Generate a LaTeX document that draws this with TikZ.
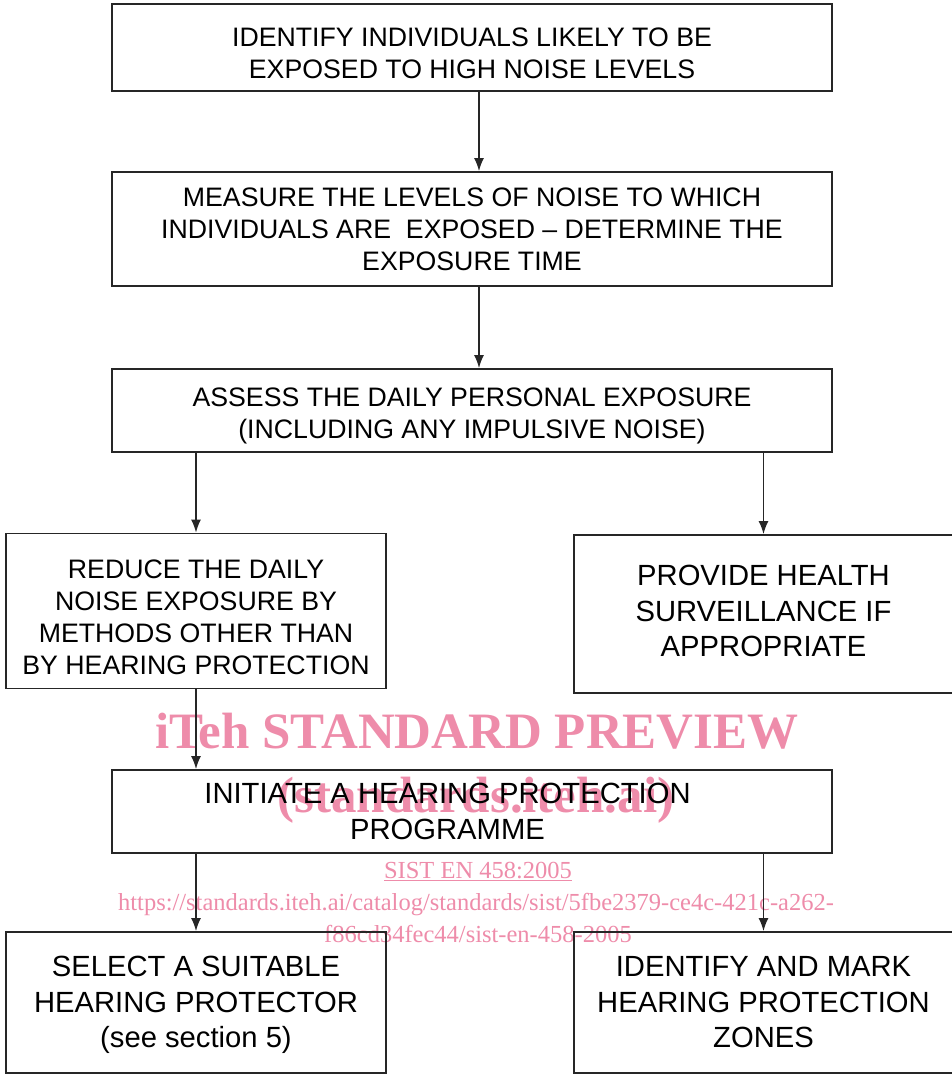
\documentclass[tikz,border=0pt]{standalone}
\usepackage{fontspec}
\setmainfont{Liberation Sans}
\newfontfamily\wmfont{Liberation Serif}
\usepackage{tikz}
\usetikzlibrary{arrows.meta}
\definecolor{wmpink}{RGB}{238,140,170}
\newcommand{\lowerby}[1]{\rule{0pt}{#1}}
\tikzset{
  stepbox/.style={draw=black!85,line width=1.6pt,rectangle,inner sep=0pt,align=center,font=\fontsize{26.7}{32}\selectfont},
  bigbox/.style={stepbox,font=\fontsize{29.2}{35.5}\selectfont},
  raise/.style={execute at end node={\rule[-#1]{0pt}{#1}}},
  flow/.style={-{Latex[length=13pt,width=10pt]},line width=1.8pt,draw=black!85},
  wmark/.style={text=wmpink,inner sep=0pt,anchor=base}
}

\begin{document}
\begin{tikzpicture}[x=1pt,y=-1pt]
\useasboundingbox (0,0) rectangle (952,1074);
\clip (0,0) rectangle (952,1074);
\node[wmark,font=\wmfont\bfseries\fontsize{51}{51}\selectfont] (wm1) at (477,748) {iTeh STANDARD PREVIEW};
\node[wmark,font=\wmfont\bfseries\fontsize{51}{51}\selectfont] (wm2) at (476,812) {(standards.iteh.ai)};
\node[wmark,font=\wmfont\fontsize{24.5}{24.5}\selectfont] (wm3) at (478,878) {\underline{SIST EN 458:2005}};
\node[wmark,font=\wmfont\fontsize{24.5}{24.5}\selectfont] (wm4) at (476,910) {https://standards.iteh.ai/catalog/standards/sist/5fbe2379-ce4c-421c-a262-};
\node[wmark,font=\wmfont\fontsize{24.5}{24.5}\selectfont] (wm5) at (478,942) {f86cd34fec44/sist-en-458-2005};

\node[stepbox,minimum width=720pt,minimum height=87pt] (b1) at (472,47.5) {\lowerby{30pt}IDENTIFY INDIVIDUALS LIKELY TO BE\\EXPOSED TO HIGH NOISE LEVELS};
\node[stepbox,minimum width=720pt,minimum height=114pt] (b2) at (472,229) {MEASURE THE LEVELS OF NOISE TO WHICH\\INDIVIDUALS ARE \ EXPOSED -- DETERMINE THE\\EXPOSURE TIME};
\node[stepbox,minimum width=720pt,minimum height=83pt] (b3) at (472,410.5) {\lowerby{30pt}ASSESS THE DAILY PERSONAL EXPOSURE\\(INCLUDING ANY IMPULSIVE NOISE)};
\node[stepbox,minimum width=380pt,minimum height=155pt] (b4) at (196,611) {\lowerby{31pt}REDUCE THE DAILY\\NOISE EXPOSURE BY\\METHODS OTHER THAN\\BY HEARING PROTECTION};
\node[bigbox,raise=6pt,minimum width=379pt,minimum height=158pt] (b5) at (763.5,614) {PROVIDE HEALTH\\SURVEILLANCE IF\\APPROPRIATE};
\node[bigbox,minimum width=720pt,minimum height=83pt] (b6) at (472,811.5) {INITIATE A HEARING PROTECTION\hspace*{49pt}\\PROGRAMME\hspace*{49pt}};
\node[bigbox,minimum width=380pt,minimum height=141pt] (b7) at (196,1002.5) {\lowerby{26pt}SELECT A SUITABLE\\HEARING PROTECTOR\\(see section 5)};
\node[bigbox,minimum width=379pt,minimum height=141pt] (b8) at (763.5,1002.5) {IDENTIFY AND MARK\\HEARING PROTECTION\\ZONES};

\draw[flow] ([xshift=7pt]b1.south) -- ([xshift=7pt]b2.north);
\draw[flow] ([xshift=7pt]b2.south) -- ([xshift=7pt]b3.north);
\draw[flow] (b3.south -| b4.north) -- (b4.north);
\draw[flow] (b3.south -| b5.north) -- (b5.north);
\draw[flow] (b4.south) -- (b6.north -| b4.south);
\draw[flow] (b6.south -| b7.north) -- (b7.north);
\draw[flow] (b6.south -| b8.north) -- (b8.north);
\end{tikzpicture}
\end{document}
